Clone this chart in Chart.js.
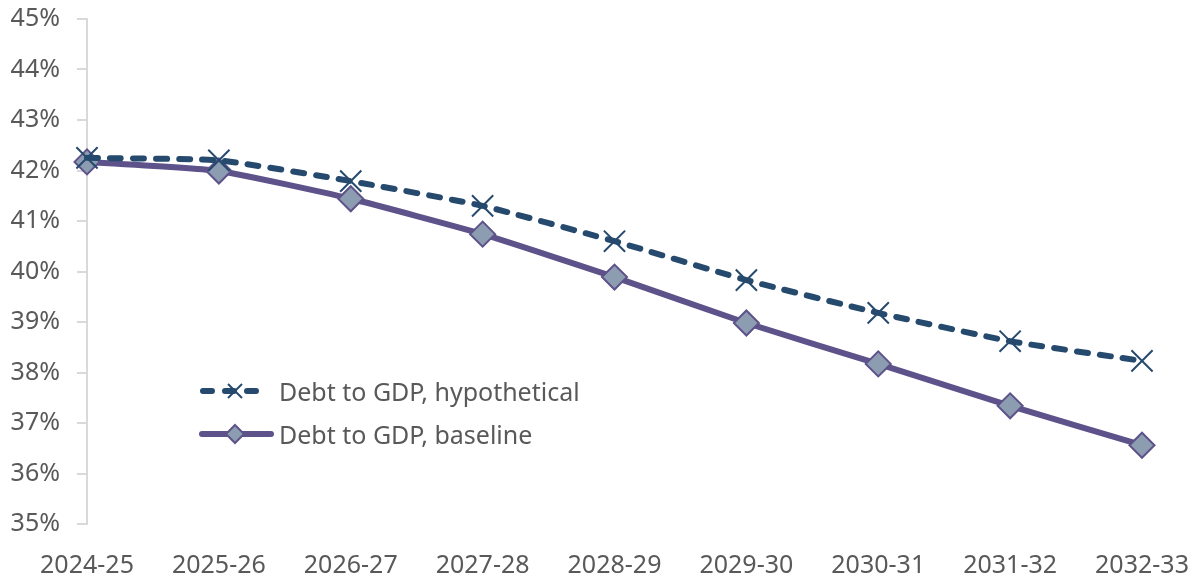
<!DOCTYPE html>
<html>
<head>
<meta charset="utf-8">
<script src="https://cdn.jsdelivr.net/npm/chart.js@4.4.1/dist/chart.umd.min.js"></script>
<style>
  html, body { margin: 0; padding: 0; background: #fff; }
  #wrap { position: relative; width: 1199px; height: 580px; }
  canvas { display: block; }
  .legend { position: absolute; left: 198px; font-family: "Noto Sans", sans-serif; font-size: 25px; color: #595959; display: flex; align-items: center; white-space: nowrap; }
  .legend svg { margin-right: 5px; }
</style>
</head>
<body>
<div id="wrap">
  <canvas id="c" width="1199" height="580"></canvas>
  <div class="legend" style="top:374px;">
    <svg width="76" height="32" viewBox="0 0 76 32">
      <line x1="5" y1="16" x2="71" y2="16" stroke="#264a6e" stroke-width="6" stroke-linecap="round" stroke-dasharray="9 13"/>
      <line x1="30" y1="9" x2="44" y2="23" stroke="#264a6e" stroke-width="2"/>
      <line x1="44" y1="9" x2="30" y2="23" stroke="#264a6e" stroke-width="2"/>
    </svg><span>Debt to GDP, hypothetical</span>
  </div>
  <div class="legend" style="top:417px;">
    <svg width="76" height="32" viewBox="0 0 76 32">
      <line x1="4" y1="16" x2="73" y2="16" stroke="#5d5289" stroke-width="6" stroke-linecap="round"/>
      <polygon points="37,7 46,16 37,25 28,16" fill="#8d9db1" stroke="#5d5289" stroke-width="2"/>
    </svg><span>Debt to GDP, baseline</span>
  </div>
</div>
<script>
const categories = ["2024-25","2025-26","2026-27","2027-28","2028-29","2029-30","2030-31","2031-32","2032-33"];
const hypothetical = [42.25, 42.20, 41.79, 41.30, 40.60, 39.83, 39.18, 38.62, 38.23];
const baseline = [42.17, 41.99, 41.44, 40.74, 39.89, 38.98, 38.17, 37.34, 36.56];
const yMin = 35, yMax = 45, yStep = 1;

const fontFamily = '"Noto Sans", sans-serif';
new Chart(document.getElementById('c'), {
  type: 'line',
  data: {
    labels: categories,
    datasets: [
      {
        label: 'Debt to GDP, baseline',
        data: baseline,
        borderColor: '#5d5289',
        borderWidth: 6,
        tension: 0.15,
        borderCapStyle: 'round',
        pointStyle: 'rectRot',
        pointRadius: 12.5,
        pointHoverRadius: 12.5,
        pointBackgroundColor: '#8d9db1',
        pointBorderColor: '#5d5289',
        pointBorderWidth: 2,
        order: 2
      },
      {
        label: 'Debt to GDP, hypothetical',
        data: hypothetical,
        borderColor: '#264a6e',
        borderWidth: 6,
        borderDash: [11, 12],
        borderCapStyle: 'round',
        tension: 0.15,
        pointStyle: 'crossRot',
        pointRadius: 15,
        pointHoverRadius: 15,
        pointBorderColor: '#264a6e',
        pointBackgroundColor: '#264a6e',
        pointBorderWidth: 2,
        order: 1
      }
    ]
  },
  options: {
    responsive: false,
    animation: false,
    layout: { padding: { top: 19, right: 57, left: 0, bottom: 0 } },
    plugins: { legend: { display: false }, tooltip: { enabled: false } },
    scales: {
      x: {
        offset: false,
        grid: { display: false },
        border: { display: false },
        ticks: { color: '#595959', font: { family: fontFamily, size: 25 }, padding: 19, maxRotation: 0, autoSkip: false },
        afterFit: (s) => { s.height = 56; s.paddingLeft = 0; s.paddingRight = 0; }
      },
      y: {
        min: yMin, max: yMax,
        grid: { drawOnChartArea: false, drawTicks: true, tickLength: 10, color: '#d9d9d9', lineWidth: 2 },
        border: { display: true, color: '#d9d9d9', width: 2 },
        ticks: { stepSize: yStep, color: '#595959', font: { family: fontFamily, size: 25 }, padding: 17, callback: v => v + '%' },
        afterFit: (s) => { s.width = 87; s.paddingTop = 0; s.paddingBottom = 0; }
      }
    }
  }
});
</script>
</body>
</html>
